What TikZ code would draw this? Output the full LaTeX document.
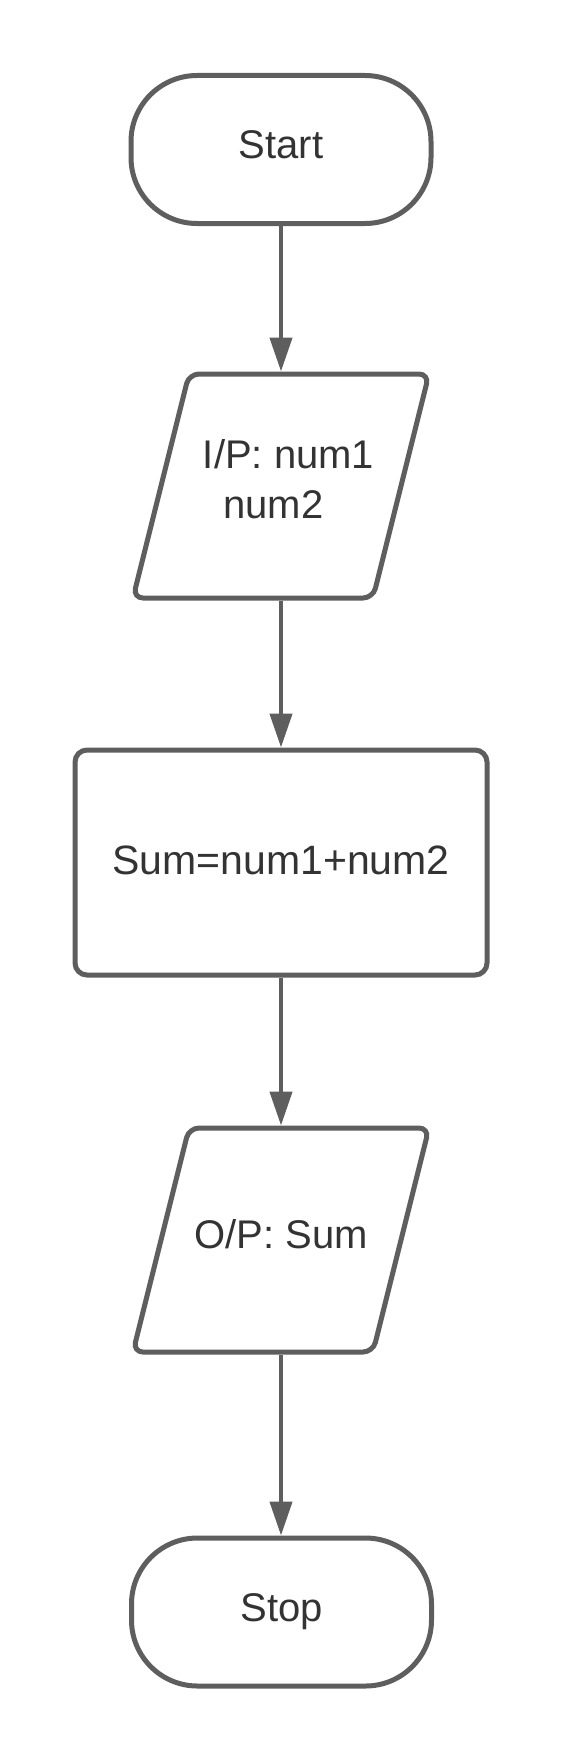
\documentclass[tikz,border=0pt]{standalone}
\usepackage{fontspec}
\setmainfont{Liberation Sans}
\usetikzlibrary{arrows.meta}
\definecolor{linegray}{HTML}{5E5E5E}
\definecolor{textgray}{HTML}{333333}
\begin{document}
\begin{tikzpicture}[x=1pt,y=-1pt,
  shapeline/.style={draw=linegray, line width=5pt, fill=white},
  labeltext/.style={text=textgray, font=\fontsize{40}{50}\selectfont},
  termbox/.style={shapeline, labeltext, rectangle, rounded corners=66pt,
    minimum width=300pt, minimum height=148pt, inner sep=0pt, outer sep=0pt,
    text height=29pt, text depth=10pt},
  procbox/.style={shapeline, labeltext, rectangle, rounded corners=12pt,
    minimum width=412pt, minimum height=225pt, inner sep=0pt, outer sep=0pt,
    font=\fontsize{41}{50}\selectfont, text height=30pt, text depth=7pt},
  ioframe/.style={rectangle, minimum width=296pt, minimum height=224pt,
    inner sep=0pt, outer sep=0pt, labeltext},
  ioline/.style={shapeline, fill=none, rounded corners=10pt},
  flow/.style={draw=linegray, line width=4.3pt,
    -{Triangle[length=34pt,width=22pt]},
    shorten <=2.5pt, shorten >=2.5pt}
]
\useasboundingbox (0,0) rectangle (563,1763);

\node[termbox] (start) at (281,149.5) {Start};

\node[ioframe] (in) at (281,486) {};
\draw[ioline] (in.north) -- (in.north east) -- ([xshift=-56pt]in.south east)
  -- (in.south west) -- ([xshift=56pt]in.north west) -- cycle;
\node[labeltext, anchor=base, inner sep=0pt] (in1) at (288.5,468) {I/P: num1};
\node[labeltext, anchor=base, inner sep=0pt] (in2) at (273.5,518) {num2};

\node[procbox] (sum) at (281,862.5) {Sum=num1+num2};

\node[ioframe, text height=29pt, text depth=13pt] (out) at (281,1240) {O/P: Sum};
\draw[ioline] (out.north) -- (out.north east) -- ([xshift=-56pt]out.south east)
  -- (out.south west) -- ([xshift=56pt]out.north west) -- cycle;

\node[termbox, text depth=11pt] (stop) at (281.5,1612) {Stop};

\draw[flow] (start.south) -- (in.north);
\draw[flow] (in.south) -- (sum.north);
\draw[flow] (sum.south) -- (out.north);
\draw[flow] (out.south) -- (stop.north -| out.south);
\end{tikzpicture}
\end{document}
